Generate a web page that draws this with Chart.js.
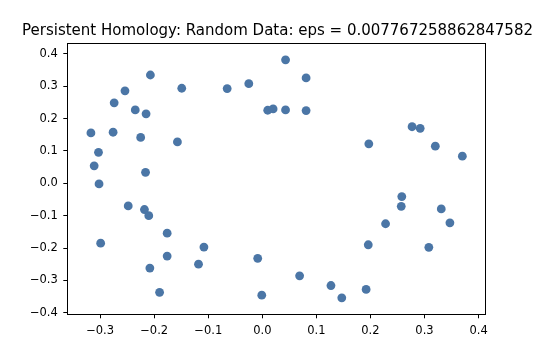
<!DOCTYPE html>
<html><head><meta charset="utf-8">
<script src="https://cdn.jsdelivr.net/npm/chart.js@4"></script>
<style>html,body{margin:0;padding:0;background:#fff}</style>
</head><body>
<canvas id="c" width="540" height="360"></canvas>
<script>
const titleText = 'Persistent Homology: Random Data: eps = 0.007767258862847582';
const xValues = [
  -0.207, -0.149, -0.254, -0.274, -0.235, -0.215, -0.317, -0.276, -0.225, -0.157, -0.303, -0.311, -0.216,
  -0.302, -0.248, -0.218, -0.210, -0.176, -0.299, -0.108, -0.176, -0.118, -0.208, -0.190,
  0.043, 0.081, -0.025, -0.065, 0.010, 0.020, 0.043, 0.081,
  -0.0085, -0.001, 0.069, 0.127, 0.147,
  0.197, 0.277, 0.292, 0.320, 0.370,
  0.258, 0.257, 0.228, 0.331, 0.347, 0.196, 0.308, 0.192
];
const yValues = [
  0.335, 0.294, 0.286, 0.249, 0.227, 0.215, 0.156, 0.158, 0.142, 0.128, 0.096, 0.054, 0.034,
  -0.002, -0.070, -0.081, -0.100, -0.154, -0.185, -0.197, -0.225, -0.250, -0.262, -0.337,
  0.382, 0.326, 0.308, 0.293, 0.226, 0.230, 0.227, 0.225,
  -0.232, -0.346, -0.286, -0.316, -0.354,
  0.122, 0.175, 0.170, 0.115, 0.084,
  -0.041, -0.071, -0.125, -0.079, -0.122, -0.190, -0.198, -0.328
];
const xTicks = [-0.3, -0.2, -0.1, 0.0, 0.1, 0.2, 0.3, 0.4];
const yTicks = [-0.4, -0.3, -0.2, -0.1, 0.0, 0.1, 0.2, 0.3, 0.4];
const xRange = [-0.3607, 0.4132];
const yRange = [-0.405, 0.433];

const points = xValues.map((x, i) => ({x: x, y: yValues[i]}));
const fmt = v => {
  const s = Math.abs(v) < 1e-9 ? '0.0' : Number(v).toFixed(1);
  return s.replace('-', '\u2212');
};
const tickFont = {family: 'DejaVu Sans', size: 11.5};

const framePlugin = {
  id: 'frame',
  afterDraw(chart) {
    const a = chart.chartArea, ctx = chart.ctx;
    ctx.save();
    ctx.strokeStyle = '#000';
    ctx.lineWidth = 1;
    ctx.strokeRect(Math.round(a.left) + 0.5, Math.round(a.top) + 0.5,
                   Math.round(a.right - a.left), Math.round(a.bottom - a.top));
    // axes title centred over the plot area, as matplotlib does
    ctx.fillStyle = '#000';
    ctx.font = '15px "DejaVu Sans"';
    ctx.textAlign = 'center';
    ctx.textBaseline = 'alphabetic';
    ctx.fillText(titleText, (a.left + a.right) / 2 + 1, a.top - 8.3);
    ctx.restore();
  }
};

new Chart(document.getElementById('c'), {
  type: 'scatter',
  data: {
    datasets: [{
      data: points,
      backgroundColor: '#4b76a6',
      borderColor: '#4b76a6',
      borderWidth: 0,
      pointRadius: 4.4,
      pointHoverRadius: 4.4
    }]
  },
  options: {
    responsive: false,
    animation: false,
    events: [],
    layout: {padding: {left: 0, right: 54.3, top: 43.3, bottom: 0}},
    plugins: {
      legend: {display: false},
      tooltip: {enabled: false},
      title: {display: false}
    },
    scales: {
      x: {
        type: 'linear',
        min: xRange[0], max: xRange[1],
        afterBuildTicks: s => { s.ticks = xTicks.map(v => ({value: v})); },
        afterFit: s => { s.height = 45.7; },
        grid: {display: true, drawOnChartArea: false, drawTicks: true, tickLength: 4, tickColor: '#000'},
        border: {display: false},
        ticks: {color: '#000', font: tickFont, padding: 6, maxRotation: 0, autoSkip: false, callback: fmt}
      },
      y: {
        type: 'linear',
        min: yRange[0], max: yRange[1],
        afterBuildTicks: s => { s.ticks = yTicks.map(v => ({value: v})); },
        afterFit: s => { s.width = 67.3; },
        grid: {display: true, drawOnChartArea: false, drawTicks: true, tickLength: 4, tickColor: '#000'},
        border: {display: false},
        ticks: {color: '#000', font: tickFont, padding: 5.5, autoSkip: false, callback: fmt}
      }
    }
  },
  plugins: [framePlugin]
});
</script>
</body></html>
